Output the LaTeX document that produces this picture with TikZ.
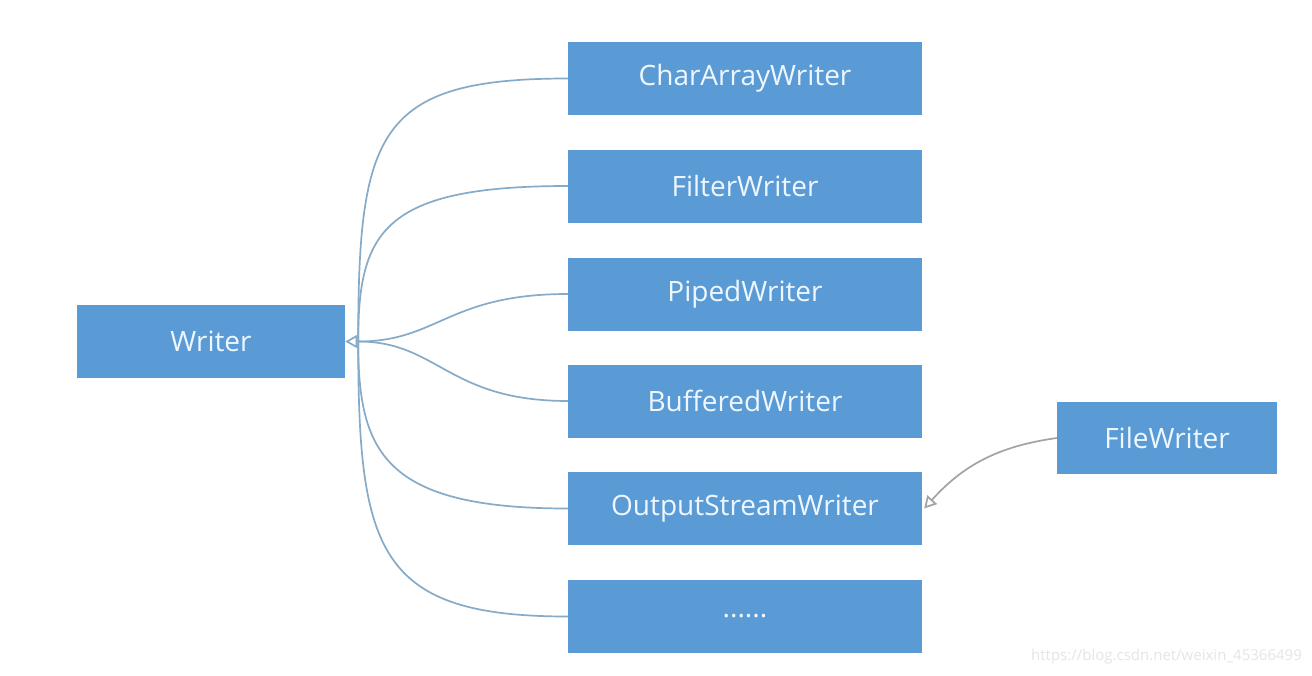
\documentclass[tikz,border=0pt]{standalone}
\usepackage{fontspec}
\setmainfont{Open Sans}
\usetikzlibrary{arrows.meta}

\definecolor{boxblue}{HTML}{5B9BD5}
\definecolor{boxtext}{HTML}{EEF7FF}
\definecolor{linkblue}{HTML}{86ABC9}
\definecolor{linkgray}{HTML}{A3A3A3}

\begin{document}
\begin{tikzpicture}[x=1pt,y=-1pt,
  cls/.style={fill=boxblue,draw=none,text=boxtext,font=\fontsize{28}{32}\selectfont,
    minimum width=354pt,minimum height=73pt,inner sep=0pt},
  link/.style={draw=linkblue,line width=1.7pt},
  open tip/.style={-{Triangle[open,length=12pt,width=13pt]}}]
\useasboundingbox[fill=white] (0,0) rectangle (1312,675);
% base class
\node[cls,minimum width=268pt] (w) at (211,341.5) {Writer};
% subclasses
\node[cls] (caw) at (745,78.5) {CharArrayWriter};
\node[cls] (flw) at (745,186) {FilterWriter};
\node[cls] (pw) at (745,294) {PipedWriter};
\node[cls] (bw) at (745,401) {BufferedWriter};
\node[cls] (osw) at (745,508.5) {OutputStreamWriter};
\node[cls] (more) at (745,616.5) {......};
\node[cls,minimum width=220pt,minimum height=72pt] (fw) at (1167,438) {FileWriter};
% inheritance lines
\coordinate (hub) at ([xshift=13pt]w.east);
\draw[link,open tip] (hub) -- (w.east);
\draw[link] (caw.west) .. controls +(-190,0) and +(0,-210) .. (hub);
\draw[link] (flw.west) .. controls +(-185,0) and +(0,-110) .. (hub);
\draw[link] (pw.west) .. controls +(-120,0) and +(80,0) .. (hub);
\draw[link] (bw.west) .. controls +(-120,0) and +(80,0) .. (hub);
\draw[link] (osw.west) .. controls +(-185,0) and +(0,110) .. (hub);
\draw[link] (more.west) .. controls +(-190,0) and +(0,210) .. (hub);
\draw[draw=linkgray,line width=1.7pt,open tip] (fw.west) to[out=188,in=48] ([xshift=2pt]osw.east);
% watermark
\node[anchor=east,text=black!10,font=\fontsize{15}{18}\selectfont,inner sep=0pt] (wm) at (1302,657) {https://blog.csdn.net/weixin\_45366499};
\end{tikzpicture}
\end{document}
